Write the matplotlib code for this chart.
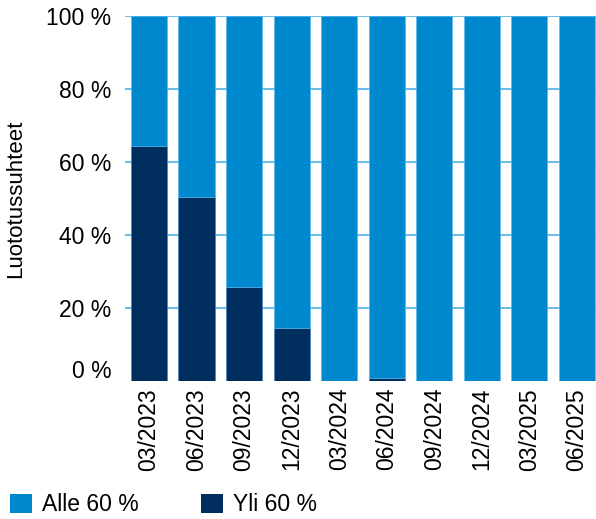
import numpy as np
import matplotlib.pyplot as plt
from matplotlib.patches import Patch
import matplotlib.transforms as mtransforms

plt.rcParams['font.family'] = ['Liberation Sans', 'DejaVu Sans']

# Data
periods = ['03/2023', '06/2023', '09/2023', '12/2023', '03/2024',
           '06/2024', '09/2024', '12/2024', '03/2025', '06/2025']
yli_60 = [64.4, 50.4, 25.8, 14.5, 0.0, 0.7, 0.0, 0.0, 0.0, 0.0]
alle_60 = [100 - v for v in yli_60]

c_light = '#0088cf'
c_dark = '#002f5f'
c_grid = '#4fb3e6'

fig = plt.figure(figsize=(5.96, 5.19), dpi=100)
ax = fig.add_axes([0.21, 0.266, 0.79, 0.703])

x = np.arange(len(periods))
ax.bar(x, yli_60, width=0.76, color=c_dark, edgecolor='#3a7fbf', linewidth=0.4, zorder=2)
ax.bar(x, alle_60, width=0.76, bottom=yli_60, color=c_light, edgecolor='#5ab8ea',
       linewidth=0.4, zorder=2)

ax.set_xlim(-0.5, 9.4)
ax.set_ylim(0, 100)
ax.set_yticks([0, 20, 40, 60, 80, 100])
ax.set_yticklabels(['0 %', '20 %', '40 %', '60 %', '80 %', '100 %'], fontsize=16.5)
ax.set_xticks(x)
ax.set_xticklabels(periods, rotation=90, fontsize=16.5)
ax.tick_params(axis='y', length=0, pad=10)
ax.tick_params(axis='x', length=0, pad=5)

# the 0 % label sits a bit higher in the original
lbl0 = ax.get_yticklabels()[0]
lbl0.set_transform(lbl0.get_transform() + mtransforms.ScaledTranslation(0, 12 / 100, fig.dpi_scale_trans))

for v in [20, 40, 60, 80, 100]:
    ax.axhline(v, color=c_grid, linewidth=1.2, zorder=1)

for s in ax.spines.values():
    s.set_visible(False)

ax.set_ylabel('Luototussuhteet', fontsize=16)
ax.yaxis.set_label_coords(-0.21, 0.5)

handles = [Patch(facecolor=c_light, label='Alle 60 %'),
           Patch(facecolor=c_dark, label='Yli 60 %')]
fig.legend(handles=handles, loc='lower left', bbox_to_anchor=(0.017, 0.005), ncol=2,
           frameon=False, fontsize=16.5, handlelength=0.95, handleheight=0.95,
           handletextpad=0.45, columnspacing=2.7, borderpad=0, borderaxespad=0)

fig.savefig('out.png', dpi=100)
